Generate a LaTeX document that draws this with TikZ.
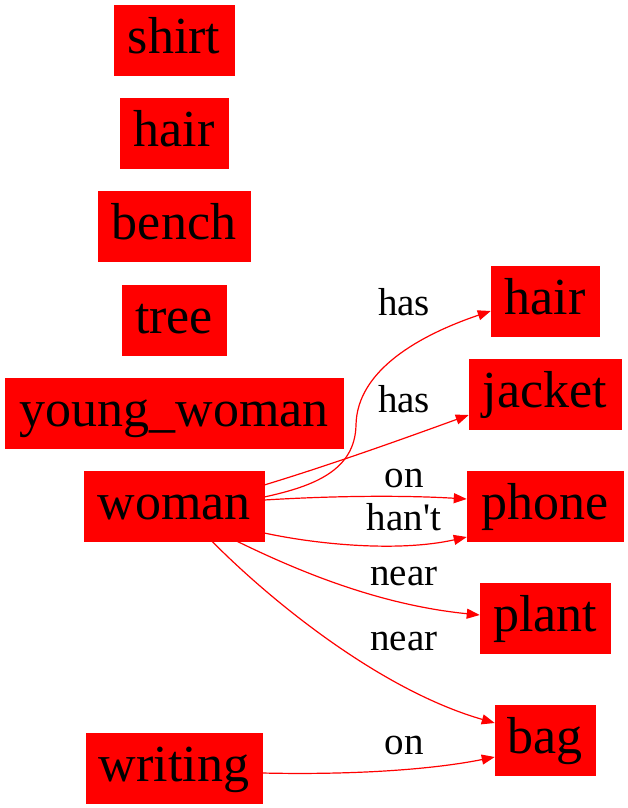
\documentclass[tikz,border=0pt]{standalone}
\usepackage{fontspec}
\setmainfont{Liberation Serif}
\newfontfamily\plainserif[Ligatures=ResetAll]{Liberation Serif}
\usetikzlibrary{arrows.meta}
\begin{document}
\begin{tikzpicture}[x=1pt,y=-1pt,
  obj/.style={fill=red,draw=red,line width=0.5pt,inner sep=0pt,minimum height=70pt,
    text height=40pt,text depth=14pt,font=\fontsize{52}{52}\selectfont,text=black},
  lbl/.style={anchor=base,inner sep=0pt,font=\fontsize{39}{39}\selectfont,text=black},
  rel/.style={draw=red,line width=1.2pt,-{Triangle[length=13pt,width=10pt]}}]
\useasboundingbox (0,0) rectangle (628,808);
% left column
\node[obj,minimum width=120pt] (shirt) at (174,40) {shirt};
\node[obj,minimum width=108pt] (hair1) at (174,133) {hair};
\node[obj,minimum width=152pt] (bench) at (174,226.5) {bench};
\node[obj,minimum width=104pt] (tree) at (174,320) {tree};
\node[obj,minimum width=338pt] (yw) at (174,413) {young\_woman};
\node[obj,minimum width=180pt] (woman) at (174,506) {woman};
\node[obj,minimum width=176pt] (writing) at (174,768) {writing};
% right column
\node[obj,minimum width=108pt] (hair2) at (545,301) {hair};
\node[obj,minimum width=152pt] (jacket) at (545,394) {jacket};
\node[obj,minimum width=156pt] (phone) at (545,506) {phone};
\node[obj,minimum width=130pt] (plant) at (545,618) {plant};
\node[obj,minimum width=100pt] (bag) at (545,740) {bag};
% labels
\node[lbl] (l1) at (404,315) {has};
\node[lbl] (l2) at (404,412) {has};
\node[lbl] (l3) at (404,487) {on};
\node[lbl] (l4) at (404,530) {\plainserif han't};
\node[lbl] (l5) at (404,585) {near};
\node[lbl] (l6) at (404,650) {near};
\node[lbl] (l7) at (404,754) {on};
% edges
\draw[rel] ([yshift=9pt]woman.east) .. controls (315,486) and (355,470) .. (356,425)
   .. controls (357,370) and (420,335) .. ([yshift=-10pt]hair2.west);
\draw[rel] ([yshift=21pt]woman.east) .. controls (330,465) and (400,440) .. ([yshift=-21pt]jacket.west);
\draw[rel] ([yshift=6pt]woman.east) .. controls (330,496) and (400,495) .. ([yshift=7pt]phone.west);
\draw[rel] ([yshift=-27pt]woman.east) .. controls (320,545) and (400,552) .. ([yshift=-31pt]phone.west);
\draw[rel] ([xshift=63pt]woman.south) .. controls (300,572) and (380,605) .. ([yshift=3pt]plant.west);
\draw[rel] ([xshift=38pt]woman.south) .. controls (270,600) and (380,690) .. ([yshift=17pt]bag.west);
\draw[rel] ([yshift=-5pt]writing.east) .. controls (350,775) and (430,770) .. ([yshift=-17pt]bag.west);
\end{tikzpicture}
\end{document}
